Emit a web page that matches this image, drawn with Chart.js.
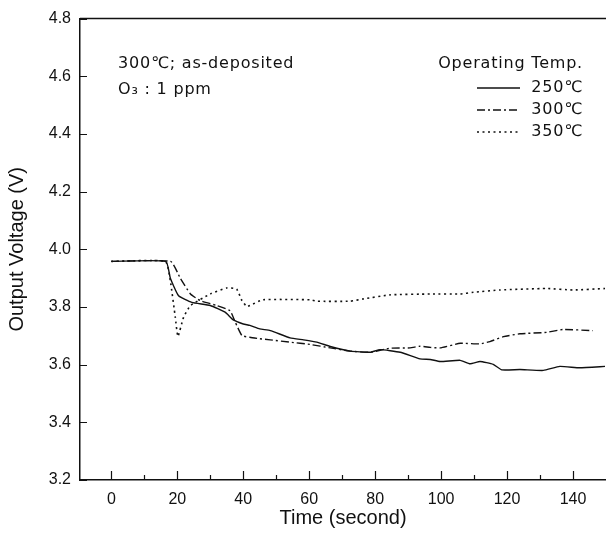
<!DOCTYPE html>
<html><head><meta charset="utf-8">
<script src="https://cdn.jsdelivr.net/npm/chart.js@4.4.0/dist/chart.umd.min.js"></script>
<style>html,body{margin:0;padding:0;background:#fff}#wrap{width:606px;height:539px}</style>
</head><body><div id="wrap"><canvas id="c" width="606" height="539"></canvas></div>
<script>
// ---- data ----
const time250 = [0, 16.5, 17.9, 20.4, 24.4, 30, 34.5, 37, 40, 42, 45, 48.2, 54.2, 58.3, 62.3, 66.4, 72.4, 78.5, 81.5, 87.6, 93.6, 96.7, 99.7, 105.8, 108.8, 111.8, 115.8, 118.4, 123.9, 131, 136, 142, 149.7];
const volt250 = [3.958, 3.958, 3.90, 3.839, 3.816, 3.805, 3.782, 3.755, 3.741, 3.736, 3.724, 3.718, 3.693, 3.686, 3.678, 3.663, 3.647, 3.643, 3.652, 3.643, 3.620, 3.618, 3.611, 3.615, 3.603, 3.611, 3.601, 3.582, 3.583, 3.580, 3.594, 3.589, 3.594];

const time300 = [0, 18, 20.9, 24, 27, 32, 36, 37.6, 39.6, 42, 45, 48.2, 54.2, 60.3, 66.4, 72.4, 78.5, 84.5, 90.6, 93.6, 96.7, 99.7, 105.8, 111.8, 114.8, 118.9, 123.9, 132, 137, 146];
const volt300 = [3.958, 3.958, 3.90, 3.845, 3.822, 3.805, 3.787, 3.747, 3.701, 3.695, 3.690, 3.686, 3.678, 3.670, 3.658, 3.647, 3.643, 3.657, 3.658, 3.664, 3.660, 3.658, 3.674, 3.672, 3.680, 3.697, 3.707, 3.712, 3.722, 3.718];

const time350 = [0, 16.4, 17.9, 19.4, 20.2, 21.9, 24, 30, 35, 38, 39.6, 41.1, 42, 46, 60.3, 62.3, 72.4, 76.5, 84.5, 96.7, 105.8, 109.8, 117.9, 132, 140, 149.7];
const volt350 = [3.958, 3.958, 3.89, 3.764, 3.698, 3.764, 3.805, 3.845, 3.866, 3.862, 3.822, 3.801, 3.805, 3.825, 3.825, 3.820, 3.820, 3.828, 3.842, 3.845, 3.845, 3.851, 3.859, 3.864, 3.859, 3.864];

const seriesLabels = ['250\u2103', '300\u2103', '350\u2103'];
const xTickValues = [0, 20, 40, 60, 80, 100, 120, 140];
const xMinorTickValues = [10, 30, 50, 70, 90, 110, 130];
const yTickValues = [3.2, 3.4, 3.6, 3.8, 4.0, 4.2, 4.4, 4.6, 4.8];
const annotationLines = ['300\u2103; as-deposited', 'O\u2083 : 1 ppm'];
const legendTitle = 'Operating Temp.';

// ---- styling ----
const INK = '#111';
const dashes = [[], [8, 3, 2, 3], [2, 3.5]];
const widths = [1.4, 1.4, 1.6];
const axisFont = "'Liberation Sans', Arial, sans-serif";
const noteFont = "'DejaVu Sans', sans-serif";

function pts(t, v) { return t.map((x, i) => ({x: x, y: v[i]})); }

const datasets = [pts(time250, volt250), pts(time300, volt300), pts(time350, volt350)].map((d, i) => ({
  label: seriesLabels[i], data: d, borderColor: INK, borderWidth: widths[i],
  borderDash: dashes[i], pointRadius: 0, tension: 0.15, fill: false
}));

const decor = {
  id: 'decor',
  afterDatasetsDraw(chart) {
    const ctx = chart.ctx, x = chart.scales.x, y = chart.scales.y, a = chart.chartArea;
    ctx.save();
    ctx.strokeStyle = INK; ctx.lineWidth = 1.5;
    // top frame line
    ctx.beginPath(); ctx.moveTo(a.left, a.top); ctx.lineTo(a.right, a.top); ctx.stroke();
    // inward ticks
    ctx.lineWidth = 1.2;
    ctx.beginPath();
    xTickValues.forEach(v => { const p = Math.round(x.getPixelForValue(v)) + 0.5; ctx.moveTo(p, a.bottom); ctx.lineTo(p, a.bottom - 9); });
    xMinorTickValues.forEach(v => { const p = Math.round(x.getPixelForValue(v)) + 0.5; ctx.moveTo(p, a.bottom); ctx.lineTo(p, a.bottom - 5); });
    yTickValues.forEach(v => { const p = Math.round(y.getPixelForValue(v)) + 0.5; ctx.moveTo(a.left, p); ctx.lineTo(a.left + 7, p); });
    ctx.stroke();
    // annotation text
    ctx.fillStyle = INK; ctx.textBaseline = 'middle';
    ctx.font = "16px " + noteFont;
    ctx.letterSpacing = '0.8px';
    ctx.textAlign = 'left';
    ctx.fillText(annotationLines[0], 118, 64);
    ctx.fillText(annotationLines[1], 118, 90);
    // legend
    ctx.textAlign = 'right';
    ctx.fillText(legendTitle, 583, 64);
    const rows = [88, 110, 132];
    seriesLabels.forEach((lab, i) => {
      ctx.save();
      ctx.lineWidth = widths[i]; ctx.setLineDash(dashes[i]);
      ctx.beginPath(); ctx.moveTo(477, rows[i]); ctx.lineTo(520, rows[i]); ctx.stroke();
      ctx.restore();
      ctx.textAlign = 'right';
      ctx.fillText(lab, 583, rows[i]);
    });
    ctx.restore();
  }
};

new Chart(document.getElementById('c'), {
  type: 'line',
  data: { datasets: datasets },
  options: {
    responsive: false, animation: false, devicePixelRatio: 1,
    layout: { padding: { top: 17, right: 0, left: 0, bottom: 0 } },
    plugins: { legend: { display: false }, tooltip: { enabled: false } },
    scales: {
      x: {
        type: 'linear', min: -9.5, max: 150,
        afterBuildTicks: s => { s.ticks = xTickValues.map(v => ({value: v})); },
        afterFit: s => { s.height = 59; },
        grid: { display: false, drawTicks: false },
        border: { display: true, color: INK, width: 1.5 },
        ticks: { color: INK, font: { family: axisFont, size: 16 }, padding: 10, maxRotation: 0, autoSkip: false },
        title: { display: true, text: 'Time (second)', color: INK, font: { family: axisFont, size: 20 }, padding: { top: 0, bottom: 9 } }
      },
      y: {
        type: 'linear', min: 3.2, max: 4.8,
        afterBuildTicks: s => { s.ticks = yTickValues.map(v => ({value: v})); },
        afterFit: s => { s.width = 80; },
        grid: { display: false, drawTicks: false },
        border: { display: true, color: INK, width: 1.5 },
        ticks: { color: INK, font: { family: axisFont, size: 16 }, padding: 9, callback: v => Number(v).toFixed(1) },
        title: { display: true, text: 'Output Voltage (V)', color: INK, font: { family: axisFont, size: 20 }, padding: { top: 5, bottom: 0 } }
      }
    }
  },
  plugins: [decor]
});
</script>
</body></html>
